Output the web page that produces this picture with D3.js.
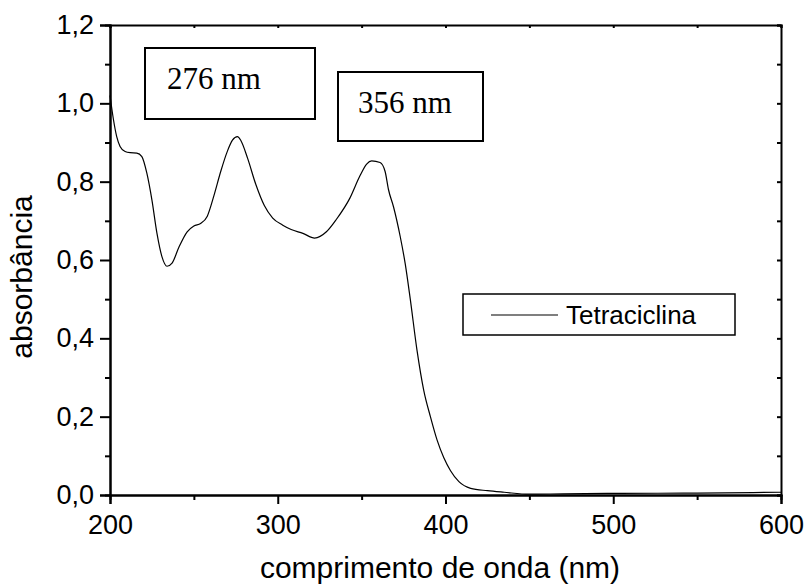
<!DOCTYPE html>
<html>
<head>
<meta charset="utf-8">
<script src="https://cdn.jsdelivr.net/npm/d3@7"></script>
<style>
  html, body { margin: 0; padding: 0; background: #fff; }
  svg { display: block; }
</style>
</head>
<body>
<svg id="chart" width="808" height="586"></svg>
<script>
// UV-Vis absorption spectrum of tetracycline
const wavelength = [200, 202, 204, 206, 209, 212, 216, 219, 222, 225, 228, 231, 234, 237, 241,
  246, 250, 254, 258, 262, 266, 270, 273, 276, 278, 282, 287, 292, 297, 303, 308, 315, 322, 329,
  335, 343, 349, 353, 356, 361, 364, 366, 369, 373, 376, 379, 383, 387, 391, 395, 399, 403, 408,
  415, 425, 435, 450, 470, 500, 550, 600];
const absorbance = [1.02, 0.96, 0.915, 0.89, 0.877, 0.874, 0.873, 0.864, 0.821, 0.753, 0.668,
  0.608, 0.584, 0.592, 0.632, 0.672, 0.687, 0.693, 0.712, 0.765, 0.826, 0.878, 0.906, 0.915,
  0.905, 0.86, 0.792, 0.739, 0.707, 0.689, 0.678, 0.668, 0.656, 0.672, 0.704, 0.758, 0.815,
  0.845, 0.853, 0.849, 0.826, 0.78, 0.736, 0.66, 0.59, 0.5, 0.37, 0.268, 0.2, 0.14, 0.095, 0.062,
  0.034, 0.017, 0.011, 0.007, 0.002, 0.003, 0.004, 0.005, 0.007];

const xMajorTicks = [200, 300, 400, 500, 600];
const xMinorTicks = [250, 350, 450, 550];
const yMajorTicks = [0, 0.2, 0.4, 0.6, 0.8, 1.0, 1.2];
const yMinorTicks = [0.1, 0.3, 0.5, 0.7, 0.9, 1.1];
const peakLabels = ["276 nm", "356 nm"];
const seriesName = "Tetraciclina";
const xTitle = "comprimento de onda (nm)";
const yTitle = "absorbância";

const svg = d3.select("#chart");
const plotLeft = 110, plotRight = 781, plotTop = 25, plotBottom = 495;

const x = d3.scaleLinear().domain([200, 600]).range([plotLeft, plotRight]);
const y = d3.scaleLinear().domain([0, 1.2]).range([plotBottom, plotTop]);

const ptBR = d3.formatLocale({ decimal: ",", thousands: ".", grouping: [3], currency: ["R$", ""] });
const fmtY = ptBR.format(".1f");

const sansFont = "Arial, 'Liberation Sans', sans-serif";
const serifFont = "'Times New Roman', 'Liberation Serif', serif";

function styleAxis(g, fontSize) {
  g.select(".domain").attr("stroke", "#000").attr("stroke-width", 2);
  g.selectAll(".tick line").attr("stroke", "#000").attr("stroke-width", 2);
  g.selectAll(".tick text").attr("fill", "#000")
    .style("font-family", sansFont).style("font-size", fontSize + "px");
}

// minor ticks (drawn first, no labels)
svg.append("g").attr("transform", `translate(0,${plotBottom})`)
  .call(d3.axisBottom(x).tickValues(xMinorTicks).tickSize(5).tickFormat(""))
  .call(g => styleAxis(g, 27));
svg.append("g").attr("transform", `translate(${plotLeft},0)`)
  .call(d3.axisLeft(y).tickValues(yMinorTicks).tickSize(5).tickFormat(""))
  .call(g => styleAxis(g, 27));

// major ticks with labels
svg.append("g").attr("transform", `translate(0,${plotBottom})`)
  .call(d3.axisBottom(x).tickValues(xMajorTicks).tickSize(9).tickPadding(11).tickFormat(d3.format("d")))
  .call(g => styleAxis(g, 27));
svg.append("g").attr("transform", `translate(${plotLeft},0)`)
  .call(d3.axisLeft(y).tickValues(yMajorTicks).tickSize(10).tickPadding(6).tickFormat(fmtY))
  .call(g => styleAxis(g, 27));

// top and right frame with small inward ticks
svg.append("g").attr("transform", `translate(0,${plotTop})`)
  .call(d3.axisTop(x).tickValues(xMajorTicks.concat(xMinorTicks)).tickSize(-3).tickFormat(""))
  .call(g => styleAxis(g, 27));
svg.append("g").attr("transform", `translate(${plotRight},0)`)
  .call(d3.axisRight(y).tickValues(yMajorTicks.concat(yMinorTicks)).tickSize(-4).tickFormat(""))
  .call(g => styleAxis(g, 27));

// spectrum line
const data = wavelength.map((w, i) => ({ w, a: absorbance[i] }));
const line = d3.line().x(d => x(d.w)).y(d => y(d.a)).curve(d3.curveMonotoneX);
svg.append("path").datum(data)
  .attr("d", line)
  .attr("fill", "none")
  .attr("stroke", "#000")
  .attr("stroke-width", 1.2);

// axis titles
svg.append("text")
  .attr("x", 440).attr("y", 578)
  .attr("text-anchor", "middle")
  .style("font-family", sansFont).style("font-size", "30px")
  .text(xTitle);
svg.append("text")
  .attr("transform", "translate(32,277) rotate(-90)")
  .attr("text-anchor", "middle")
  .style("font-family", sansFont).style("font-size", "30px")
  .text(yTitle);

// peak annotation boxes
const boxes = [
  { x0: 145, y0: 48, x1: 315, y1: 119, tx: 167, ty: 89 },
  { x0: 338, y0: 72, x1: 483, y1: 141, tx: 358, ty: 113 }
];
boxes.forEach((b, i) => {
  svg.append("rect")
    .attr("x", b.x0).attr("y", b.y0)
    .attr("width", b.x1 - b.x0).attr("height", b.y1 - b.y0)
    .attr("fill", "none").attr("stroke", "#000").attr("stroke-width", 2);
  svg.append("text")
    .attr("x", b.tx).attr("y", b.ty)
    .style("font-family", serifFont).style("font-size", "31px")
    .text(peakLabels[i]);
});

// legend
const legend = svg.append("g");
legend.append("rect")
  .attr("x", 463).attr("y", 294).attr("width", 272).attr("height", 41)
  .attr("fill", "#fff").attr("stroke", "#000").attr("stroke-width", 1.5);
legend.append("line")
  .attr("x1", 491).attr("x2", 558).attr("y1", 315).attr("y2", 315)
  .attr("stroke", "#000").attr("stroke-width", 1.2);
legend.append("text")
  .attr("x", 566).attr("y", 324)
  .style("font-family", sansFont).style("font-size", "26px")
  .text(seriesName);
</script>
</body>
</html>
